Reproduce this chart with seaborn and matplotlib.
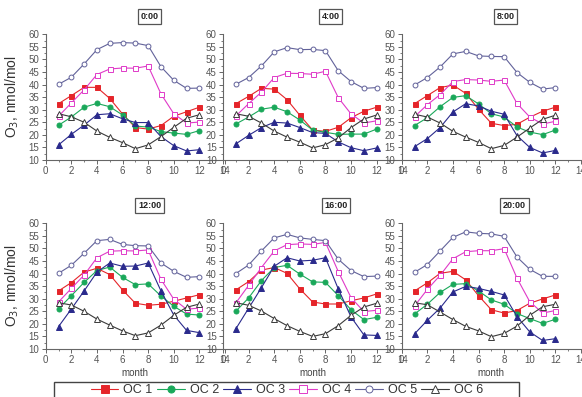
import matplotlib
matplotlib.use("Agg")
import matplotlib.pyplot as plt
import seaborn as sns
import pandas as pd
from matplotlib.ticker import MultipleLocator
from matplotlib.lines import Line2D
from matplotlib.patches import Rectangle

sns.set_style("white")
plt.rcParams['font.family'] = ['Liberation Sans', 'DejaVu Sans']

months = list(range(1, 13))
series_names = ["OC 1", "OC 2", "OC 3", "OC 4", "OC 5", "OC 6"]
panel_titles = ["0:00", "4:00", "8:00", "12:00", "16:00", "20:00"]

# 0:00
h00_oc1 = [32.4, 35.6, 38.9, 38.9, 34.5, 28.3, 22.9, 22.3, 23.7, 27.4, 29.2, 31.0]
h00_oc2 = [23.8, 27.1, 31.0, 32.5, 31.2, 27.9, 23.5, 23.1, 21.3, 20.7, 20.2, 21.7]
h00_oc3 = [16.0, 20.2, 23.9, 28.0, 28.4, 26.4, 24.9, 24.9, 19.3, 15.7, 13.6, 14.1]
h00_oc4 = [27.4, 32.7, 37.9, 44.0, 46.2, 46.6, 46.5, 47.4, 36.3, 28.4, 24.7, 25.1]
h00_oc5 = [40.1, 42.9, 48.2, 53.9, 56.4, 56.7, 56.5, 55.5, 47.1, 41.7, 38.5, 38.6]
h00_oc6 = [28.4, 27.2, 25.0, 21.5, 19.0, 16.9, 14.5, 16.0, 19.3, 23.0, 26.6, 28.0]
# 4:00
h04_oc1 = [32.4, 35.3, 38.5, 38.2, 34.0, 27.8, 21.9, 21.4, 23.0, 26.8, 29.4, 31.0]
h04_oc2 = [24.3, 27.1, 30.2, 31.0, 29.2, 25.9, 21.9, 21.0, 20.2, 20.3, 20.3, 22.3]
h04_oc3 = [16.4, 19.8, 22.9, 25.0, 24.7, 22.9, 20.9, 20.6, 17.2, 14.9, 13.7, 14.8]
h04_oc4 = [27.5, 32.4, 37.0, 42.8, 44.5, 44.4, 44.1, 45.3, 34.8, 28.3, 24.7, 25.6]
h04_oc5 = [40.1, 42.8, 47.4, 53.0, 54.7, 53.9, 54.0, 53.5, 45.5, 41.2, 38.5, 38.8]
h04_oc6 = [28.4, 27.4, 24.7, 21.5, 19.1, 17.1, 14.8, 16.1, 18.8, 22.9, 26.3, 27.9]
# 8:00
h08_oc1 = [32.4, 35.6, 38.8, 39.8, 36.5, 30.2, 24.6, 23.7, 24.2, 27.0, 29.4, 31.0]
h08_oc2 = [23.7, 26.8, 31.2, 34.9, 35.6, 32.3, 28.4, 27.1, 23.1, 21.1, 20.1, 21.9]
h08_oc3 = [15.3, 18.5, 22.9, 29.1, 32.4, 31.5, 29.4, 28.2, 19.7, 15.0, 12.8, 13.8]
h08_oc4 = [27.2, 32.0, 36.0, 41.2, 42.0, 41.8, 41.3, 41.8, 32.5, 27.1, 24.3, 25.4]
h08_oc5 = [39.8, 42.8, 47.0, 52.2, 53.2, 51.4, 51.2, 51.1, 44.8, 40.9, 38.2, 38.8]
h08_oc6 = [28.2, 27.1, 24.7, 21.4, 19.1, 17.0, 14.5, 15.8, 19.1, 22.7, 26.2, 27.8]
# 12:00
h12_oc1 = [33.1, 36.4, 40.6, 42.1, 39.6, 33.5, 28.2, 27.4, 27.8, 29.0, 30.3, 31.6]
h12_oc2 = [26.0, 31.2, 36.5, 41.2, 42.6, 38.5, 35.6, 35.9, 31.1, 27.0, 23.9, 23.5]
h12_oc3 = [18.9, 25.9, 33.1, 40.6, 44.2, 42.9, 43.0, 44.2, 33.1, 23.5, 17.4, 16.5]
h12_oc4 = [28.7, 34.1, 39.4, 46.3, 48.9, 49.1, 49.0, 49.4, 37.7, 29.8, 25.8, 26.3]
h12_oc5 = [40.1, 43.3, 48.1, 53.1, 53.6, 51.6, 51.1, 51.0, 44.2, 40.9, 38.5, 38.8]
h12_oc6 = [28.4, 27.5, 25.0, 21.9, 19.5, 17.2, 15.3, 16.4, 19.5, 23.4, 26.6, 27.9]
# 16:00
h16_oc1 = [33.5, 36.8, 41.4, 42.4, 40.1, 33.9, 28.7, 27.9, 27.9, 29.2, 30.3, 31.9]
h16_oc2 = [25.0, 30.3, 37.2, 42.4, 43.3, 39.8, 36.7, 36.5, 31.2, 25.6, 21.7, 22.6]
h16_oc3 = [18.0, 26.2, 34.4, 42.9, 46.3, 45.0, 45.3, 46.3, 33.9, 22.7, 15.6, 15.4]
h16_oc4 = [28.3, 35.3, 42.4, 49.0, 51.5, 51.8, 51.6, 52.4, 40.8, 30.4, 24.9, 25.4]
h16_oc5 = [40.0, 43.4, 49.0, 54.2, 55.6, 54.2, 53.6, 53.1, 45.7, 41.2, 38.8, 39.0]
h16_oc6 = [28.4, 27.4, 25.1, 22.1, 19.3, 17.0, 15.0, 16.1, 19.3, 23.4, 26.7, 28.2]
# 20:00
h20_oc1 = [33.1, 36.3, 40.1, 40.9, 37.5, 31.2, 25.6, 24.3, 25.3, 28.2, 29.9, 31.5]
h20_oc2 = [23.9, 27.8, 32.5, 35.7, 36.0, 33.1, 29.5, 27.8, 24.1, 22.1, 20.2, 21.8]
h20_oc3 = [16.0, 21.4, 26.3, 32.7, 34.9, 34.1, 32.9, 31.5, 22.9, 16.8, 13.4, 14.1]
h20_oc4 = [27.1, 33.7, 39.3, 45.9, 48.7, 49.1, 49.1, 49.9, 38.2, 28.8, 24.3, 25.3]
h20_oc5 = [40.5, 43.6, 49.0, 54.4, 56.6, 56.0, 55.8, 54.8, 46.6, 41.7, 38.9, 38.9]
h20_oc6 = [28.4, 27.6, 24.7, 21.7, 19.0, 17.2, 14.9, 16.2, 19.1, 23.4, 26.8, 27.8]

panels = [
    [h00_oc1, h00_oc2, h00_oc3, h00_oc4, h00_oc5, h00_oc6],
    [h04_oc1, h04_oc2, h04_oc3, h04_oc4, h04_oc5, h04_oc6],
    [h08_oc1, h08_oc2, h08_oc3, h08_oc4, h08_oc5, h08_oc6],
    [h12_oc1, h12_oc2, h12_oc3, h12_oc4, h12_oc5, h12_oc6],
    [h16_oc1, h16_oc2, h16_oc3, h16_oc4, h16_oc5, h16_oc6],
    [h20_oc1, h20_oc2, h20_oc3, h20_oc4, h20_oc5, h20_oc6],
]

colors = ["#e5252a", "#1aa85a", "#2a2a8c", "#e03ac8", "#62629a", "#3a3a3a"]
markers = ["s", "o", "^", "s", "o", "^"]
filled = [True, True, True, False, False, False]
msizes = [3.6, 3.6, 4.2, 3.6, 3.5, 4.2]

fig = plt.figure(figsize=(5.82, 3.97), dpi=100)
W, H = 582.0, 397.0
lefts = [45.7, 223.0, 401.7]
tops = [34.3, 223.3]
aw, ah = 179.3, 125.7
title_xf = [0.58, 0.60, 0.58, 0.58, 0.63, 0.63]

tick_col = "#555555"
for i, pdata in enumerate(panels):
    r, c = divmod(i, 3)
    ax = fig.add_axes([lefts[c] / W, (H - tops[r] - ah) / H, aw / W, ah / H])
    for j, vals in enumerate(pdata):
        df = pd.DataFrame({"month": months, "o3": vals})
        sns.lineplot(data=df, x="month", y="o3", ax=ax, color=colors[j],
                     marker=markers[j], markersize=msizes[j], linewidth=0.8,
                     markerfacecolor=colors[j] if filled[j] else "white",
                     markeredgecolor=colors[j], markeredgewidth=0.7)
    ax.set_xlim(0, 14)
    ax.set_ylim(10, 60)
    ax.xaxis.set_major_locator(MultipleLocator(2))
    ax.xaxis.set_minor_locator(MultipleLocator(1))
    ax.yaxis.set_major_locator(MultipleLocator(5))
    ax.yaxis.set_minor_locator(MultipleLocator(2.5))
    for s in ["top", "right"]:
        ax.spines[s].set_visible(False)
    for s in ["left", "bottom"]:
        ax.spines[s].set_color("#666666")
        ax.spines[s].set_linewidth(0.8)
    ax.tick_params(axis="both", which="major", direction="out", length=3,
                   width=0.7, color="#666666", labelsize=7, labelcolor=tick_col, pad=1.5,
                   left=True, bottom=True)
    ax.tick_params(axis="both", which="minor", direction="out", length=1.5,
                   width=0.6, color="#666666", left=True, bottom=True)
    ax.set_xlabel("month" if r == 1 else "", fontsize=7, color="#444444", labelpad=2)
    ax.set_ylabel("")
    ax.text(title_xf[i], 1.0 + 18 / ah, panel_titles[i], transform=ax.transAxes,
            ha="center", va="center", fontsize=6.5, fontweight="bold", color="#222222",
            bbox=dict(boxstyle="square,pad=0.3", facecolor="white", edgecolor="#555555", linewidth=0.9))

for r in range(2):
    yc = (H - tops[r] - ah / 2) / H
    fig.text(12 / W, yc, "O$_3$, nmol/mol", rotation=90, ha="center", va="center",
             fontsize=10, color="#333333")

# legend frame (box open at the bottom edge of the figure)
fig.patches.append(Rectangle((54 / W, -0.02), (519 - 54) / W, (H - 382) / H + 0.02,
                             transform=fig.transFigure, fill=False,
                             edgecolor="#444444", linewidth=1.0))

handles = []
for j in range(6):
    handles.append(Line2D([0], [0], color=colors[j], marker=markers[j], markersize=msizes[j] + 1.5,
                          linewidth=0.8, markerfacecolor=colors[j] if filled[j] else "white",
                          markeredgecolor=colors[j], markeredgewidth=0.7))
leg = fig.legend(handles, series_names, ncol=6, loc="center",
                 bbox_to_anchor=(287 / W, (H - 390) / H),
                 fontsize=9, frameon=False, handlelength=2.2,
                 handletextpad=0.4, columnspacing=0.35, borderpad=0.0)
for t in leg.get_texts():
    t.set_color("#333333")

fig.savefig("out.png", dpi=100)
